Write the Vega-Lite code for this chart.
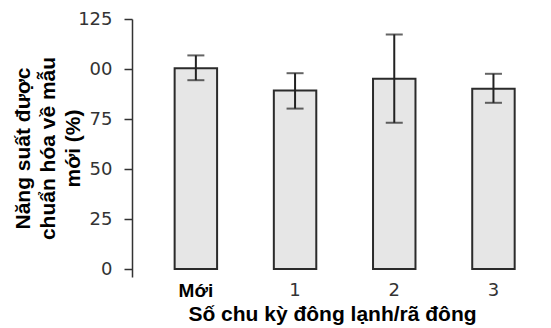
{
  "$schema": "https://vega.github.io/schema/vega-lite/v6.json",
  "width": 419,
  "height": 258,
  "autosize": {"type": "none"},
  "padding": {"left": 132, "top": 19, "right": 0, "bottom": 51},
  "background": "white",
  "config": {"view": {"stroke": null}},
  "data": {
    "values": [
      {"cycle": "Mới", "yield": 100.4, "low": 94.4, "high": 106.8},
      {"cycle": "1", "yield": 89.2, "low": 80.2, "high": 97.9},
      {"cycle": "2", "yield": 95.1, "low": 73.1, "high": 117.3},
      {"cycle": "3", "yield": 90.1, "low": 83.1, "high": 97.6}
    ]
  },
  "encoding": {
    "x": {
      "field": "cycle",
      "type": "nominal",
      "sort": null,
      "scale": {"paddingInner": 0.572, "paddingOuter": 0.398, "align": 0.54},
      "axis": {
        "title": "Số chu kỳ đông lạnh/rã đông",
        "labelAngle": 0,
        "domain": false,
        "ticks": false,
        "labelPadding": 4,
        "labelFont": {"condition": {"test": "datum.value == 'Mới'", "value": "Liberation Sans"}, "value": "DejaVu Sans"},
        "labelFontWeight": {"condition": {"test": "datum.value == 'Mới'", "value": "bold"}, "value": "normal"},
        "labelColor": {"condition": {"test": "datum.value == 'Mới'", "value": "#000000"}, "value": "#333333"},
        "labelFontSize": {"condition": {"test": "datum.value == 'Mới'", "value": 19}, "value": 18},
        "titleFont": "Liberation Sans",
        "titleFontWeight": "bold",
        "titleFontSize": 21,
        "titleColor": "#000000",
        "titleX": 200,
        "titleY": 43,
        "titleAnchor": "middle",
        "titleAlign": "center",
        "titleBaseline": "alphabetic"
      }
    }
  },
  "layer": [
    {
      "mark": {"type": "bar", "fill": "#e6e6e6", "stroke": "#2b2b2b", "strokeWidth": 2},
      "encoding": {
        "y": {
          "field": "yield",
          "type": "quantitative",
          "scale": {"domain": [-4, 125], "nice": false, "zero": false},
          "axis": {
            "values": [0, 25, 50, 75, 100, 125],
            "labelExpr": "datum.value == 100 ? '00' : datum.label",
            "grid": false,
            "tickSize": 8,
            "tickColor": "#333333",
            "tickWidth": 1.5,
            "domainColor": "#333333",
            "domainWidth": 1.5,
            "labelPadding": 12,
            "labelFont": "DejaVu Sans",
            "labelFontSize": 18,
            "labelColor": "#333333",
            "title": ["Năng suất được", "chuẩn hóa về mẫu", "mới (%)"],
            "titleFont": "Liberation Sans",
            "titleFontWeight": "bold",
            "titleFontSize": 21,
            "titleColor": "#000000",
            "titleLineHeight": 25,
            "titleAngle": -90,
            "titleX": -109,
            "titleY": 129,
            "titleAlign": "center",
            "titleBaseline": "middle"
          }
        },
        "y2": {"datum": 0}
      }
    },
    {
      "mark": {"type": "rule", "color": "#222222", "strokeWidth": 2},
      "encoding": {
        "y": {"field": "low", "type": "quantitative"},
        "y2": {"field": "high"}
      }
    },
    {
      "mark": {"type": "tick", "color": "#222222", "thickness": 2, "size": 17},
      "encoding": {"y": {"field": "low", "type": "quantitative"}}
    },
    {
      "mark": {"type": "tick", "color": "#222222", "thickness": 2, "size": 17},
      "encoding": {"y": {"field": "high", "type": "quantitative"}}
    },
    {
      "mark": {"type": "rule", "color": "#333333", "strokeWidth": 1.5},
      "encoding": {"y": {"datum": 0}}
    }
  ]
}
